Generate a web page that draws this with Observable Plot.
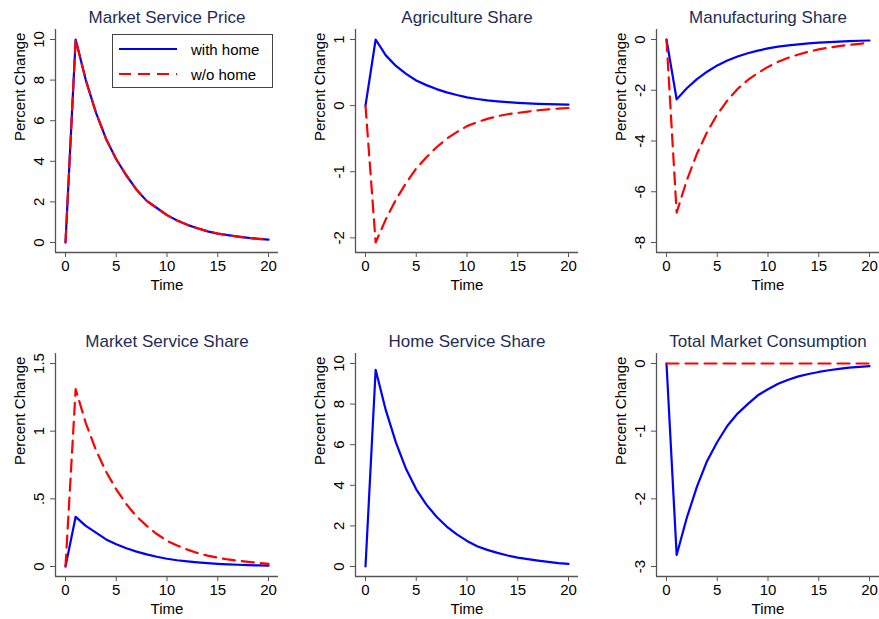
<!DOCTYPE html>
<html>
<head>
<meta charset="utf-8">
<script src="https://cdn.jsdelivr.net/npm/d3@7"></script>
<script src="https://cdn.jsdelivr.net/npm/@observablehq/plot@0.6"></script>
<style>
  html, body { margin: 0; padding: 0; background: #fff; }
  body { width: 879px; height: 619px; overflow: hidden; font-family: "Liberation Sans", Arial, Helvetica, sans-serif; }
  #root { position: relative; width: 879px; height: 619px; }
  .panel { position: absolute; }
  .legend { position: absolute; left: 112px; top: 34px; width: 159px; height: 52px; border: 1px solid #444; background: #fff; }
  .legend .row { position: absolute; left: 6px; height: 20px; display: flex; align-items: center; }
  .legend .row span { font-size: 15px; color: #000; margin-left: 14px; }
</style>
</head>
<body>
<div id="root"></div>
<script>
// ---- Data ----
const time = [0,1,2,3,4,5,6,7,8,9,10,11,12,13,14,15,16,17,18,19,20];

const titles = ["Market Service Price", "Agriculture Share", "Manufacturing Share",
                "Market Service Share", "Home Service Share", "Total Market Consumption"];
const seriesNames = ["with home", "w/o home"];

const priceWith    = [0, 10.0, 8.0, 6.4, 5.1, 4.1, 3.3, 2.6, 2.05, 1.7, 1.35, 1.08, 0.87, 0.7, 0.55, 0.44, 0.36, 0.29, 0.23, 0.18, 0.14];
const priceWithout = [0, 10.0, 8.0, 6.4, 5.1, 4.1, 3.3, 2.6, 2.05, 1.7, 1.35, 1.08, 0.87, 0.7, 0.55, 0.44, 0.36, 0.29, 0.23, 0.18, 0.14];

const agriWith    = [0, 1.0, 0.76, 0.6, 0.48, 0.38, 0.31, 0.25, 0.2, 0.16, 0.125, 0.1, 0.08, 0.065, 0.052, 0.042, 0.034, 0.027, 0.022, 0.018, 0.014];
const agriWithout = [0, -2.07, -1.72, -1.42, -1.17, -0.95, -0.78, -0.63, -0.5, -0.4, -0.31, -0.25, -0.2, -0.16, -0.13, -0.11, -0.09, -0.07, -0.056, -0.045, -0.036];

const manWith    = [0, -2.36, -1.92, -1.56, -1.27, -1.02, -0.83, -0.67, -0.54, -0.44, -0.35, -0.28, -0.23, -0.19, -0.15, -0.12, -0.1, -0.08, -0.065, -0.05, -0.04];
const manWithout = [0, -6.82, -5.55, -4.5, -3.65, -2.95, -2.4, -1.95, -1.6, -1.32, -1.08, -0.88, -0.72, -0.59, -0.48, -0.39, -0.32, -0.26, -0.21, -0.17, -0.13];

const mssWith    = [0, 0.367, 0.3, 0.25, 0.2, 0.165, 0.135, 0.11, 0.09, 0.072, 0.057, 0.046, 0.038, 0.031, 0.025, 0.02, 0.016, 0.013, 0.01, 0.008, 0.006];
const mssWithout = [0, 1.31, 1.06, 0.86, 0.7, 0.57, 0.46, 0.37, 0.3, 0.24, 0.19, 0.155, 0.125, 0.1, 0.08, 0.065, 0.052, 0.042, 0.034, 0.027, 0.02];

const hssWith = [0, 9.69, 7.7, 6.1, 4.8, 3.8, 3.05, 2.45, 1.97, 1.58, 1.26, 1.0, 0.82, 0.67, 0.54, 0.44, 0.36, 0.29, 0.23, 0.17, 0.13];

const tmcWith    = [0, -2.83, -2.28, -1.82, -1.44, -1.16, -0.92, -0.74, -0.6, -0.47, -0.38, -0.3, -0.24, -0.19, -0.155, -0.125, -0.1, -0.08, -0.06, -0.05, -0.04];
const tmcWithout = [0, 0, 0, 0, 0, 0, 0, 0, 0, 0, 0, 0, 0, 0, 0, 0, 0, 0, 0, 0, 0];

const xTicks = [0, 5, 10, 15, 20];
const yTicksList = [
  [0, 2, 4, 6, 8, 10],
  [-2, -1, 0, 1],
  [-8, -6, -4, -2, 0],
  [0, 0.5, 1, 1.5],
  [0, 2, 4, 6, 8, 10],
  [-3, -2, -1, 0]
];
const withList    = [priceWith, agriWith, manWith, mssWith, hssWith, tmcWith];
const withoutList = [priceWithout, agriWithout, manWithout, mssWithout, null, tmcWithout];

// ---- Layout ----
const BLUE = "#0000ff", RED = "#ff0000", AXIS = "#555555", TITLE = "#1e2b57";
const FONT = "'Liberation Sans', Arial, Helvetica, sans-serif";
const panelPos = [[0,0],[300,0],[601,0],[0,324],[300,324],[601,324]];
const plotH = 223, inner = 203, pad = 10;

const fmt = d => String(d).replace(/^(-?)0\./, "$1.");

const root = document.getElementById("root");

titles.forEach((title, i) => {
  const w = withList[i], wo = withoutList[i];
  const yt = yTicksList[i];
  const vals = [...w, ...(wo || []), ...yt];
  const [lo, hi] = d3.extent(vals);
  const yp = (hi - lo) * pad / inner;
  const yDomain = [lo - yp, hi + yp];
  const xp = (20 - 0) * pad / inner;
  const xDomain = [0 - xp, 20 + xp];

  const dataWith = time.map((t, k) => ({t, v: w[k], s: seriesNames[0]}));
  const dataWithout = wo ? time.map((t, k) => ({t, v: wo[k], s: seriesNames[1]})) : [];

  const isRight = (i % 3) === 2;
  const width = isRight ? 278 : 300;

  const marks = [
    Plot.ruleX([xDomain[0]], {stroke: AXIS, strokeWidth: 1.3}),
    Plot.ruleY([yDomain[0]], {stroke: AXIS, strokeWidth: 1.3}),
    Plot.axisX({ticks: xTicks, tickSize: 5, tickPadding: 3, label: null, stroke: AXIS, tickFormat: fmt}),
    Plot.axisY({ticks: yt, tickSize: 5, tickPadding: 7, tickRotate: -90, label: null, stroke: AXIS, tickFormat: fmt}),
    Plot.line(dataWith, {x: "t", y: "v", stroke: BLUE, strokeWidth: 2.2}),
  ];
  if (wo) marks.push(Plot.line(dataWithout, {x: "t", y: "v", stroke: RED, strokeWidth: 2.2, strokeDasharray: "12,7"}));
  marks.push(
    Plot.text([title], {frameAnchor: "top", lineAnchor: "top", dy: -19, fontSize: 17, fill: TITLE}),
    Plot.text(["Percent Change"], {frameAnchor: "left", rotate: -90, lineAnchor: "top", dx: -41, fontSize: 15, fill: "#000"}),
    Plot.text(["Time"], {frameAnchor: "bottom", lineAnchor: "top", dy: 27, fontSize: 15, fill: "#000"})
  );

  const svg = Plot.plot({
    width, height: 300,
    marginLeft: 55, marginRight: isRight ? 0 : 22, marginTop: 29, marginBottom: 300 - 29 - plotH,
    x: {domain: xDomain},
    y: {domain: yDomain},
    style: {fontSize: "15px", fontFamily: FONT, color: "#000", background: "transparent", overflow: "visible"},
    marks
  });
  const div = document.createElement("div");
  div.className = "panel";
  div.style.left = panelPos[i][0] + "px";
  div.style.top = panelPos[i][1] + "px";
  div.appendChild(svg);
  root.appendChild(div);
});

// ---- Legend (HTML, over first panel) ----
const legend = document.createElement("div");
legend.className = "legend";
const legendItems = [
  {name: seriesNames[0], color: BLUE, dash: null, top: 4},
  {name: seriesNames[1], color: RED, dash: "12,7", top: 29}
];
legendItems.forEach(it => {
  const row = document.createElement("div");
  row.className = "row";
  row.style.top = it.top + "px";
  row.innerHTML = `<svg width="58" height="6"><line x1="0" y1="3" x2="58" y2="3" stroke="${it.color}" stroke-width="2.2" ${it.dash ? `stroke-dasharray="${it.dash}"` : ""}/></svg><span>${it.name}</span>`;
  legend.appendChild(row);
});
root.appendChild(legend);
</script>
</body>
</html>
